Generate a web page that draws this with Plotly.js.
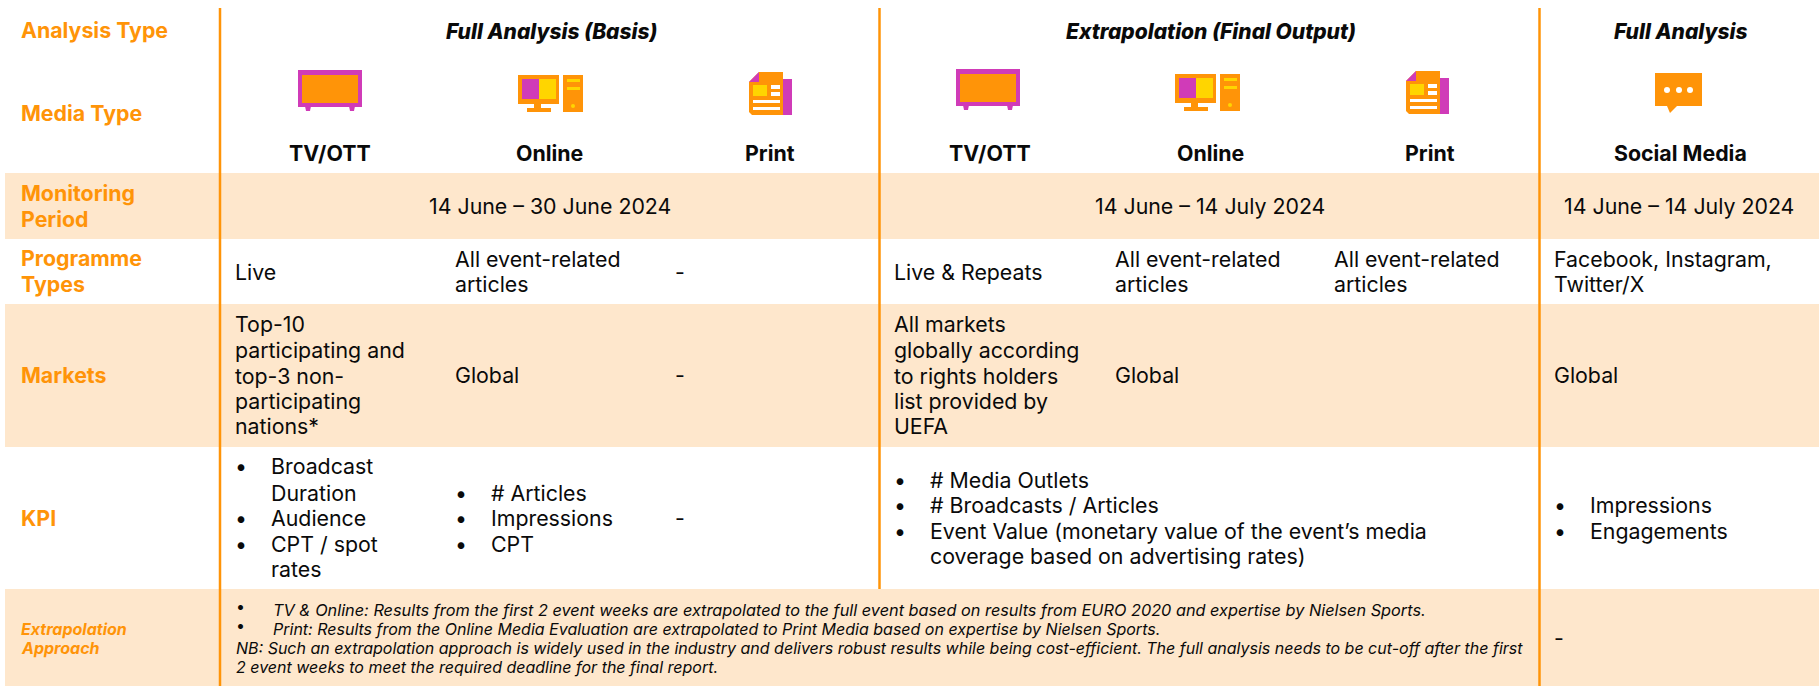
<!DOCTYPE html>
<html><head><meta charset="utf-8">
<script src="https://cdn.plot.ly/plotly-3.0.1.min.js"></script>
<style>html,body{margin:0;padding:0;background:#fff}#c{width:1819px;height:686px}</style>
</head><body><div id="c"></div>
<script>
const rowLabels = [["Analysis Type"],["Media Type"],["Monitoring","Period"],["Programme","Types"],["Markets"],["KPI"]];
const approachLabel = ["Extrapolation","Approach"];
const analysisTypes = ["Full Analysis (Basis)","Extrapolation (Final Output)","Full Analysis"];
const mediaTypes = ["TV/OTT","Online","Print","TV/OTT","Online","Print","Social Media"];
const periods = ["14 June – 30 June 2024","14 June – 14 July 2024","14 June – 14 July 2024"];
const programmeTypes = [["Live"],["All event-related","articles"],["-"],["Live & Repeats"],["All event-related","articles"],["All event-related","articles"],["Facebook, Instagram,","Twitter/X"]];
const marketsA = ["Top-10","participating and","top-3 non-","participating","nations*"];
const marketsB = ["All markets","globally according","to rights holders","list provided by","UEFA"];
const marketsOther = ["Global","-","Global","Global"];
const kpiTv = ["Broadcast","Duration","Audience","CPT / spot","rates"];
const kpiOnline = ["# Articles","Impressions","CPT"];
const kpiExtra = ["# Media Outlets","# Broadcasts / Articles","Event Value (monetary value of the event’s media","coverage based on advertising rates)"];
const kpiSocial = ["Impressions","Engagements"];
const approachBullets = ["TV & Online: Results from the first 2 event weeks are extrapolated to the full event based on results from EURO 2020 and expertise by Nielsen Sports.","Print: Results from the Online Media Evaluation are extrapolated to Print Media based on expertise by Nielsen Sports."];
const approachNote = ["NB: Such an extrapolation approach is widely used in the industry and delivers robust results while being cost-efficient. The full analysis needs to be cut-off after the first","2 event weeks to meet the required deadline for the final report."];
const dash = "-";

const ORANGE="#FF9408", MAG="#D03BB8", YEL="#FFD500", BAND="#FEE7CC", INK="#0A0A0A", FONT="Inter, 'Noto Sans', sans-serif";
const BODY=21.33, SMALL=16;
const ann=[], shp=[];
function T(x,y,s,o={}){const size=o.s||BODY;ann.push({x,y:size===BODY?y-1:y,xref:'x',yref:'y',text:s,showarrow:false,xanchor:o.a||'left',yanchor:'middle',borderpad:0,
  font:{family:FONT,size,color:o.c||INK,weight:o.w||400,style:o.i?'italic':'normal'}});}
function R(x0,y0,x1,y1,c,l){shp.push({type:'rect',xref:'x',yref:'y',x0,y0,x1,y1,fillcolor:c,line:{width:0},layer:l||'below'});}
function P(path,c){shp.push({type:'path',xref:'x',yref:'y',path,fillcolor:c,line:{width:0},layer:'above'});}
function C(cx,cy,r,c){shp.push({type:'circle',xref:'x',yref:'y',x0:cx-r,y0:cy-r,x1:cx+r,y1:cy+r,fillcolor:c,line:{width:0},layer:'above'});}
function V(x,y0,y1){shp.push({type:'line',xref:'x',yref:'y',x0:x,x1:x,y0,y1,line:{color:ORANGE,width:2.5},layer:'above'});}
function RA(x0,y0,x1,y1,c){R(x0,y0,x1,y1,c,'above');}

function tv(dx,dy){const X=v=>v+dx,Y=v=>v+dy;
  P(`M${X(305)},${Y(106)}L${X(311)},${Y(106)}L${X(310)},${Y(111)}L${X(306)},${Y(111)}Z`,MAG);
  P(`M${X(349)},${Y(106)}L${X(355)},${Y(106)}L${X(354)},${Y(111)}L${X(350)},${Y(111)}Z`,MAG);
  RA(X(298),Y(70),X(362),Y(107),MAG);RA(X(302),Y(75),X(358),Y(103),ORANGE);}
function pc(dx,dy){const X=v=>v+dx,Y=v=>v+dy;
  RA(X(518),Y(75),X(559),Y(104),ORANGE);RA(X(522),Y(79),X(539),Y(99),MAG);RA(X(539),Y(79),X(556),Y(99),YEL);
  RA(X(534),Y(104),X(541),Y(109),ORANGE);RA(X(527),Y(108),X(551),Y(112),ORANGE);
  RA(X(563),Y(75),X(583),Y(112),ORANGE);RA(X(567),Y(79),X(580),Y(82),YEL);RA(X(567),Y(87),X(580),Y(90),YEL);C(X(573),Y(106),2,YEL);}
function pr(dx,dy){const X=v=>v+dx,Y=v=>v+dy;
  RA(X(775),Y(79),X(792),Y(115),MAG);
  P(`M${X(749)},${Y(82)}L${X(759)},${Y(72)}L${X(783)},${Y(72)}L${X(783)},${Y(115)}L${X(752)},${Y(115)}L${X(749)},${Y(112)}Z`,ORANGE);
  P(`M${X(749)},${Y(82)}L${X(759)},${Y(72)}L${X(759)},${Y(82)}Z`,MAG);
  RA(X(753),Y(85),X(767),Y(96),YEL);RA(X(771),Y(85),X(780),Y(89),'#fff');RA(X(771),Y(92),X(780),Y(96),'#fff');
  RA(X(753),Y(100),X(780),Y(103),'#fff');RA(X(753),Y(107),X(780),Y(110),'#fff');}

// bands
R(5,173,1819,239,BAND);R(5,304,1819,447,BAND);R(5,589,1819,686,BAND);
// rules
V(220,8,686);V(879.5,8,589);V(1539.5,8,686);
// icons
tv(0,0);pc(0,0);pr(0,0);tv(658,-1);pc(657,-1);pr(657,-1);
RA(1655,73,1702,106,ORANGE);P('M1667,106L1670,113L1677,106Z',ORANGE);
[1667,1679,1690].forEach(x=>C(x,90,3,'#fff'));

// row labels
const L={c:ORANGE,w:700};
[[31],[114],[194,220],[259,285],[376],[519]].forEach((ys,i)=>ys.forEach((y,j)=>T(20,y,rowLabels[i][j],L)));
approachLabel.forEach((s,i)=>T(20,[629,648][i],s,{c:ORANGE,w:700,i:1,s:SMALL}));
// headers
[551,1211,1681].forEach((x,i)=>T(x,31,analysisTypes[i],{a:'center',w:800,i:1,s:21}));
[330,549,770,990,1210,1430,1680].forEach((x,i)=>T(x,154,mediaTypes[i],{a:'center',w:700}));
[550,1210,1679].forEach((x,i)=>T(x,207,periods[i],{a:'center'}));
// programme
const colX=[234,454,674,893,1114,1333,1553];
programmeTypes.forEach((ls,i)=>{const ys=ls.length==1?[273]:[260,285];ls.forEach((s,j)=>T(colX[i],ys[j],s));});
// markets
const mY=[325,351,377,402,427];
marketsA.forEach((s,i)=>T(234,mY[i],s));marketsB.forEach((s,i)=>T(893,mY[i],s));
[454,674,1114,1553].forEach((x,i)=>T(x,376,marketsOther[i]));
// KPI
function bullets(bx,tx,ys,lines,starts){lines.forEach((s,i)=>{T(tx,ys[i],s);if(starts.includes(i))T(bx,ys[i],'•');});}
bullets(234,270,[467,494,519,545,570],kpiTv,[0,2,3]);
bullets(454,490,[494,519,545],kpiOnline,[0,1,2]);
T(674,519,dash);
bullets(893,929,[481,506,532,557],kpiExtra,[0,1,2]);
bullets(1553,1589,[506,532],kpiSocial,[0,1]);
// approach
approachBullets.forEach((s,i)=>{T(272,[610,629][i],s,{i:1,s:[16.3,SMALL][i]});T(235,[606,625][i],'•',{s:SMALL});});
approachNote.forEach((s,i)=>T(235,[648,667][i],s,{i:1,s:SMALL}));
T(1553,639,dash);

Plotly.newPlot('c',[{type:'scatter',x:[],y:[],hoverinfo:'skip',showlegend:false}],{
  width:1819,height:686,margin:{l:0,r:0,t:0,b:0,pad:0},paper_bgcolor:'#fff',plot_bgcolor:'#fff',showlegend:false,
  xaxis:{range:[0,1819],visible:false,fixedrange:true},yaxis:{range:[686,0],visible:false,fixedrange:true},
  shapes:shp,annotations:ann},{displayModeBar:false,staticPlot:true});
</script></body></html>
